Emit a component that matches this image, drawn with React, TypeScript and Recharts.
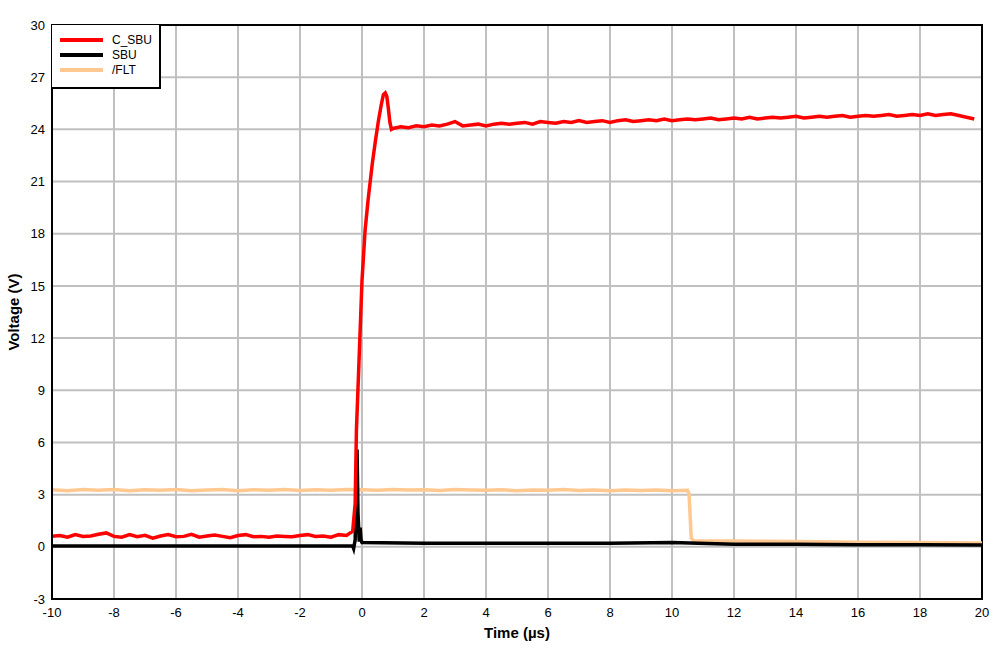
import React from 'react';
import { LineChart, Line, XAxis, YAxis, CartesianGrid, ReferenceArea } from 'recharts';

// C_SBU (red)
const cSbuTime = [
  -10, -9.75, -9.5, -9.25, -9, -8.75, -8.5, -8.25, -8, -7.75, -7.5, -7.25, -7, -6.75, -6.5, -6.25,
  -6, -5.75, -5.5, -5.25, -5, -4.75, -4.5, -4.25, -4, -3.75, -3.5, -3.25, -3, -2.75, -2.5, -2.25,
  -2, -1.75, -1.5, -1.25, -1, -0.75, -0.5, -0.38, -0.3, -0.22, -0.18, -0.1, 0, 0.1, 0.2, 0.33,
  0.43, 0.53, 0.62, 0.69, 0.75, 0.8, 0.85, 0.9, 0.95, 1.0, 1.25, 1.5, 1.75, 2, 2.25, 2.5, 2.75,
  3, 3.25, 3.5, 3.75, 4, 4.25, 4.5, 4.75, 5, 5.25, 5.5, 5.75, 6, 6.25, 6.5, 6.75, 7, 7.25, 7.5,
  7.75, 8, 8.25, 8.5, 8.75, 9, 9.25, 9.5, 9.75, 10, 10.25, 10.5, 10.75, 11, 11.25, 11.5, 11.75,
  12, 12.25, 12.5, 12.75, 13, 13.25, 13.5, 13.75, 14, 14.25, 14.5, 14.75, 15, 15.25, 15.5, 15.75,
  16, 16.25, 16.5, 16.75, 17, 17.25, 17.5, 17.75, 18, 18.25, 18.5, 18.75, 19, 19.25, 19.5, 19.75, 20,
];
const cSbuVolt = [
  0.6, 0.65, 0.55, 0.7, 0.6, 0.62, 0.72, 0.8, 0.6, 0.55, 0.7, 0.58, 0.66, 0.5, 0.62, 0.7,
  0.58, 0.6, 0.72, 0.55, 0.62, 0.68, 0.6, 0.52, 0.65, 0.7, 0.58, 0.6, 0.55, 0.62, 0.6, 0.58,
  0.65, 0.7, 0.6, 0.62, 0.55, 0.7, 0.65, 0.8, 0.9, 2.5, 6.7, 10.5, 15.3, 18.2, 20.0, 22.0,
  23.3, 24.5, 25.4, 26.0, 26.1, 25.9, 25.2, 24.4, 24.0, 24.05, 24.15, 24.1, 24.2, 24.15, 24.25,
  24.2, 24.3, 24.45, 24.2, 24.25, 24.3, 24.2, 24.3, 24.35, 24.3, 24.35, 24.4, 24.3, 24.45, 24.4,
  24.35, 24.45, 24.4, 24.5, 24.4, 24.45, 24.5, 24.4, 24.5, 24.55, 24.45, 24.5, 24.55, 24.5,
  24.6, 24.5, 24.55, 24.6, 24.55, 24.6, 24.65, 24.55, 24.6, 24.65, 24.6, 24.7, 24.6, 24.65,
  24.7, 24.65, 24.7, 24.75, 24.65, 24.7, 24.75, 24.7, 24.75, 24.8, 24.7, 24.75, 24.8, 24.75,
  24.8, 24.85, 24.75, 24.8, 24.85, 24.8, 24.9, 24.8, 24.85, 24.9, 24.8, 24.7, 24.6,
];

// SBU (black)
const sbuTime = [-10, -5, -0.3, -0.27, -0.22, -0.19, -0.16, -0.13, -0.09, -0.06, -0.03, 0, 2, 4, 6, 8, 10, 12, 14, 16, 18, 20];
const sbuVolt = [0.05, 0.05, 0.05, -0.1, 0.4, 3.5, 5.6, 2.0, 0.3, 1.1, 0.4, 0.25, 0.2, 0.2, 0.2, 0.2, 0.25, 0.15, 0.15, 0.12, 0.12, 0.1];

// /FLT (orange)
const fltTime = [
  -10, -9.5, -9, -8.5, -8, -7.5, -7, -6.5, -6, -5.5, -5, -4.5, -4, -3.5, -3, -2.5, -2, -1.5, -1,
  -0.5, 0, 0.5, 1, 1.5, 2, 2.5, 3, 3.5, 4, 4.5, 5, 5.5, 6, 6.5, 7, 7.5, 8, 8.5, 9, 9.5, 10,
  10.5, 10.55, 10.62, 10.7, 12, 14, 16, 18, 20,
];
const fltVolt = [
  3.28, 3.22, 3.3, 3.25, 3.3, 3.22, 3.28, 3.25, 3.3, 3.22, 3.26, 3.3, 3.22, 3.28, 3.25, 3.3, 3.24,
  3.28, 3.25, 3.3, 3.28, 3.25, 3.3, 3.26, 3.28, 3.24, 3.3, 3.27, 3.25, 3.28, 3.22, 3.27, 3.25,
  3.3, 3.24, 3.27, 3.22, 3.26, 3.24, 3.27, 3.23, 3.25, 3.05, 0.5, 0.35, 0.33, 0.3, 0.26, 0.25, 0.22,
];

const xTicks = [-10, -8, -6, -4, -2, 0, 2, 4, 6, 8, 10, 12, 14, 16, 18, 20];
const yTicks = [-3, 0, 3, 6, 9, 12, 15, 18, 21, 24, 27, 30];

const series = [
  { name: 'C_SBU', color: '#ff0000', time: cSbuTime, volt: cSbuVolt },
  { name: 'SBU', color: '#000000', time: sbuTime, volt: sbuVolt },
  { name: '/FLT', color: '#ffc891', time: fltTime, volt: fltVolt },
];

const FONT = '"Liberation Sans", Arial, sans-serif';

// drawn as a plain box over the plot so it takes no room from the chart
const LegendBox = () => (
  <div
    style={{
      position: 'absolute',
      left: 52,
      top: 25,
      width: 109,
      height: 64,
      border: '2px solid #000',
      borderTop: 'none',
      borderLeft: 'none',
      background: '#fff',
      fontFamily: FONT,
      fontSize: 12,
      paddingTop: 7,
      boxSizing: 'border-box',
    }}
  >
    {series.map((s) => (
      <div key={s.name} style={{ display: 'flex', alignItems: 'center', height: 15 }}>
        <div style={{ width: 43, height: 4, background: s.color, marginLeft: 8, marginRight: 9 }} />
        <span>{s.name}</span>
      </div>
    ))}
  </div>
);

export default function App() {
  return (
    <div style={{ position: 'absolute', left: 0, top: 0, background: '#fff' }}>
      <LineChart width={1006} height={652} margin={{ top: 25, right: 24, left: 0, bottom: 0 }}>
        <CartesianGrid stroke="#c0c0c0" strokeWidth={2} horizontalValues={yTicks} verticalValues={xTicks} />
        <XAxis
          type="number"
          dataKey="t"
          domain={[-10, 20]}
          ticks={xTicks}
          allowDataOverflow
          height={53}
          tickLine={false}
          tickSize={0}
          tickMargin={9}
          axisLine={{ stroke: '#000', strokeWidth: 2 }}
          tick={{ fill: '#000', fontSize: 13, fontFamily: FONT }}
          label={{ value: 'Time (µs)', position: 'center', dy: 7, style: { fontWeight: 'bold', fontSize: 15, fontFamily: FONT, fill: '#000' } }}
        />
        <YAxis
          type="number"
          domain={[-3, 30]}
          ticks={yTicks}
          allowDataOverflow
          width={52}
          tickLine={false}
          tickSize={0}
          tickMargin={7}
          axisLine={{ stroke: '#000', strokeWidth: 2 }}
          tick={{ fill: '#000', fontSize: 13, fontFamily: FONT }}
          label={{ value: 'Voltage (V)', angle: -90, position: 'center', dx: -12, style: { fontWeight: 'bold', fontSize: 15, fontFamily: FONT, fill: '#000' } }}
        />
        <ReferenceArea x1={-10} x2={20} y1={-3} y2={30} fill="none" stroke="#000" strokeWidth={2} ifOverflow="visible" />
        {series
          .slice()
          .reverse()
          .map((s) => (
            <Line
              key={s.name}
              name={s.name}
              data={s.time.map((t, i) => ({ t, v: s.volt[i] }))}
              dataKey="v"
              stroke={s.color}
              strokeWidth={3.5}
              dot={false}
              type="linear"
              isAnimationActive={false}
            />
          ))}
      </LineChart>
      <LegendBox />
    </div>
  );
}
